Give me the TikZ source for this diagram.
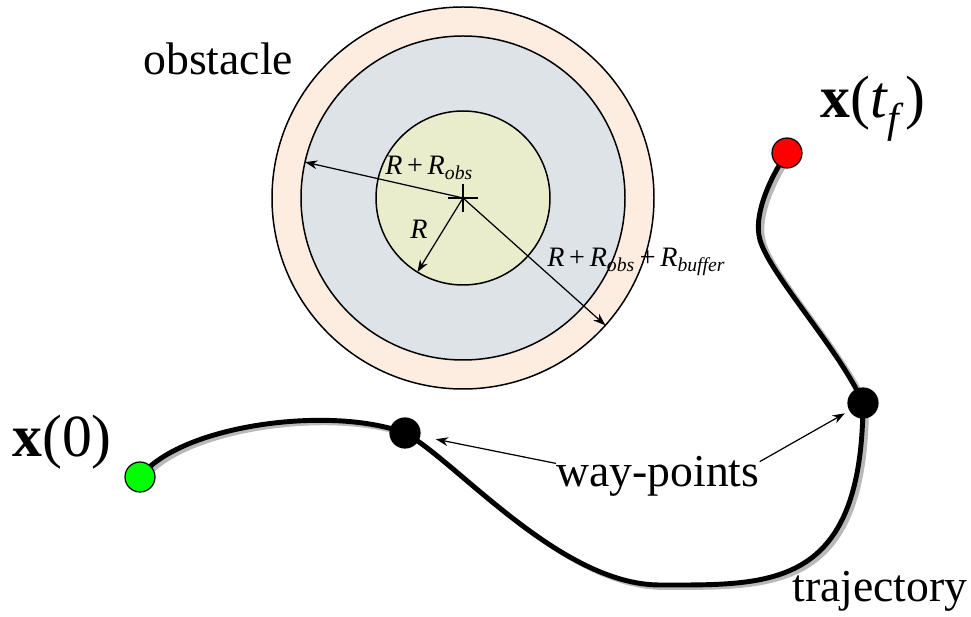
\documentclass[tikz,border=0pt]{standalone}
\usepackage{fontspec}
\setmainfont{Liberation Serif}
\usetikzlibrary{arrows.meta}
\definecolor{buffercol}{RGB}{253,237,224}
\definecolor{obscol}{RGB}{222,227,232}
\definecolor{corecol}{RGB}{233,237,204}
\definecolor{shadowcol}{RGB}{185,185,185}
\begin{document}
\begin{tikzpicture}[x=0.02cm, y=-0.02cm,
    pointer/.style={-{Stealth[length=7pt,width=5pt]}, line width=0.7pt},
    dot/.style={circle, draw, line width=0.7pt, minimum size=0.6cm, inner sep=0pt},
    bigtext/.style={font=\fontsize{26}{30}\selectfont, inner sep=0pt, anchor=base west},
    labeltext/.style={font=\fontsize{16}{19}\selectfont, inner sep=0pt, anchor=base west}]
        \useasboundingbox (0,0) rectangle (971,617);

        % Obstacle : zone tampon, zone obstacle, noyau
        \coordinate (c) at (463,198);
        \draw[line width=0.85pt, fill=buffercol] (c) circle[radius=191];
        \draw[line width=0.85pt, fill=obscol] (c) circle[radius=162];
        \draw[line width=0.85pt, fill=corecol] (c) circle[radius=87];
        \draw[line width=0.7pt] (c) ++(-15,0) -- ++(30,0) (c) ++(0,-14) -- ++(0,28);
        \node[bigtext] (obs) at (143,75) {obstacle};

        % Rayons
        \draw[pointer] (c) -- ++(192.8:162);
        \draw[pointer] (c) -- ++(121.6:87);
        \draw[pointer] (c) -- ++(41.8:191);
        \node[labeltext] (rob) at (385,175) {\textit{R}\,+\,\textit{R}\textsubscript{\textit{obs}}};
        \node[labeltext] (r) at (410,239) {\textit{R}};
        \node[labeltext] (rbuf) at (547,267) {\textit{R}\,+\,\textit{R}\textsubscript{\textit{obs}}\,+\,\textit{R}\textsubscript{\textit{buffer}}};

        % Trajectoire (ombre puis trait)
        \coordinate (p0) at (140,477);
        \coordinate (p1) at (405,433);
        \coordinate (p2) at (863,403);
        \coordinate (p3) at (787,153);
        \draw[shadowcol, line width=2.8pt, transform canvas={xshift=2pt, yshift=-1.4pt}]
            (p0) .. controls (180,425) and (330,405) .. (p1)
            .. controls (455,460) and (560,585) .. (660,585)
            .. controls (770,585) and (862,590) .. (p2)
            .. controls (840,350) and (770,275) .. (760,240)
            .. controls (752,212) and (775,170) .. (p3);
        \draw[line width=2.8pt]
            (p0) .. controls (180,425) and (330,405) .. (p1)
            .. controls (455,460) and (560,585) .. (660,585)
            .. controls (770,585) and (862,590) .. (p2)
            .. controls (840,350) and (770,275) .. (760,240)
            .. controls (752,212) and (775,170) .. (p3);
        \node[bigtext] (traj) at (792,602) {trajectory};

        % Points
        \node[dot, fill=green] (start) at (p0) {};
        \node[dot, fill=black] (w1) at (p1) {};
        \node[dot, fill=black] (w2) at (p2) {};
        \node[dot, fill=red] (goal) at (p3) {};
        \node[font=\fontsize{34}{40}\selectfont, inner sep=0pt, anchor=base west] (x0) at (12,457) {\textbf{x}(0)};
        \node[font=\fontsize{34}{40}\selectfont, inner sep=0pt, anchor=base west] (xtf) at (820,118) {\textbf{x}(\textit{t}\textsubscript{\textit{f}})};

        % Way-points
        \node[bigtext] (wp) at (556,487) {way-points};
        \draw[pointer, shorten >=9pt] ([yshift=-4pt]wp.north west) -- (w1);
        \draw[pointer, shorten >=3pt] ([yshift=-3pt]wp.north east) -- (w2);
    \end{tikzpicture}
\end{document}
